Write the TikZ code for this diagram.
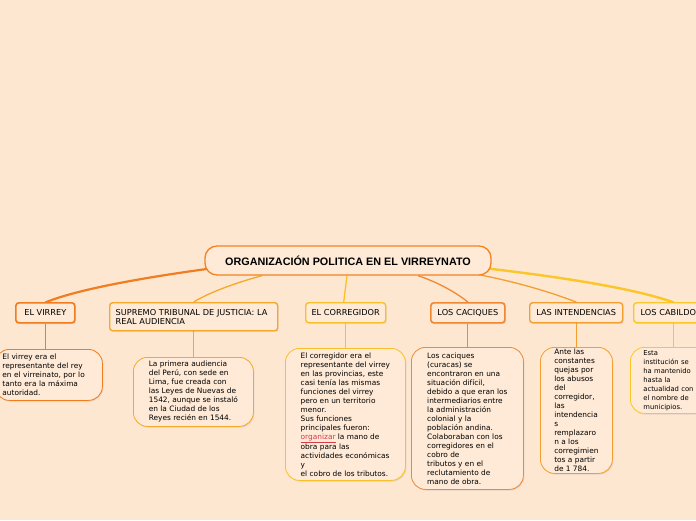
\documentclass[tikz,border=0pt]{standalone}
\usepackage{fontspec}
\setmainfont{DejaVu Sans}
\newfontfamily\titlefont{Liberation Sans}
\usetikzlibrary{calc,backgrounds,shadows}

\definecolor{paper}{RGB}{253,231,209}
\definecolor{boxfill}{RGB}{254,234,214}
\definecolor{cVirrey}{RGB}{242,124,32}
\definecolor{cAudiencia}{RGB}{246,168,42}
\definecolor{cCorreg}{RGB}{250,192,44}
\definecolor{cCaciques}{RGB}{240,136,52}
\definecolor{cIntend}{RGB}{245,158,48}
\definecolor{cCabildo}{RGB}{251,198,40}
\definecolor{spell}{RGB}{214,58,72}

\begin{document}
\begin{tikzpicture}[x=1pt, y=-1pt,
    topic/.style={draw=cVirrey!90!cCorreg, line width=1.3pt, fill=boxfill, rounded corners=12pt,
        minimum width=286pt, minimum height=29pt, inner sep=0pt,
        font=\titlefont\bfseries\fontsize{10.8}{12}\selectfont},
    branchbox/.style={draw=#1, line width=1.4pt, fill=boxfill, rounded corners=3pt,
        anchor=north west, minimum height=20pt, inner sep=0pt,
        font=\fontsize{8.2}{9}\selectfont,
        drop shadow={shadow xshift=1pt, shadow yshift=-1.2pt, opacity=0.18}},
    notebox/.style={draw=#1, line width=0.8pt, fill=boxfill, rounded corners=14pt,
        anchor=north west, align=left, inner sep=0pt,
        font=\fontsize{7.4}{9}\selectfont,
        drop shadow={shadow xshift=1pt, shadow yshift=-1.2pt, opacity=0.18}},
    link/.style={draw=#1, line width=1.3pt}]
    \useasboundingbox (0,0) rectangle (696,520);

    % Title
    \node[topic] (title) at (348,260.5) {ORGANIZACIÓN POLITICA EN EL VIRREYNATO};

    % Main branches
    \node[branchbox=cVirrey, minimum width=59pt, line width=1.7pt] (virrey) at (15,302) {EL VIRREY};
    \node[branchbox=cAudiencia, minimum height=28pt, text width=156pt, align=left, inner xsep=6pt]
        (audiencia) at (109,302) {SUPREMO TRIBUNAL DE JUSTICIA: LA\\REAL AUDIENCIA};
    \node[branchbox=cCorreg, minimum width=80pt] (correg) at (305,302) {EL CORREGIDOR};
    \node[branchbox=cCaciques, minimum width=74pt, line width=1.7pt] (caciques) at (430,302) {LOS CACIQUES};
    \node[branchbox=cIntend, minimum width=93pt] (intend) at (529,302) {LAS INTENDENCIAS};
    \node[branchbox=cCabildo, minimum width=74pt, align=left, text width=66pt, inner xsep=7pt]
        (cabildo) at (633,302) {LOS CABILDOS};

    % Notes
    \node[notebox=cVirrey, inner xsep=7pt, text width=93pt, minimum height=51pt] (virreytxt) at (-5,349)
        {El virrey era el\\representante del rey\\en el virreinato, por lo\\tanto era la máxima\\autoridad.};
    \node[notebox=cAudiencia, minimum width=120pt, minimum height=69pt] (audienciatxt) at (133,357)
        {La primera audiencia\\del Perú, con sede en\\Lima, fue creada con\\las Leyes de Nuevas de\\1542, aunque se instaló\\en la Ciudad de los\\Reyes recién en 1544.};
    \node[notebox=cCorreg, minimum width=120pt, minimum height=132pt] (corregtxt) at (285,348)
        {El corregidor era el\\representante del virrey\\en las provincias, este\\casi tenía las mismas\\funciones del virrey\\pero en un territorio\\menor.\\Sus funciones\\principales fueron:\\\textcolor{spell}{\underline{organizar}} la mano de\\obra para las\\actividades económicas\\y\\el cobro de los tributos.};
    \node[notebox=cCaciques, minimum width=112pt, minimum height=142pt] (caciquestxt) at (411,347)
        {Los caciques\\(curacas) se\\encontraron en una\\situación difícil,\\debido a que eran los\\intermediarios entre\\la administración\\colonial y la\\población andina.\\Colaboraban con los\\corregidores en el\\cobro de\\tributos y en el\\reclutamiento de\\mano de obra.};
    \node[notebox=cIntend, minimum width=72pt, minimum height=126pt] (intendtxt) at (540,347)
        {Ante las\\constantes\\quejas por\\los abusos\\del\\corregidor,\\las\\intendencia\\s\\remplazaro\\n a los\\corregimien\\tos a partir\\de 1 784.};
    \node[notebox=cCabildo, inner xsep=13pt, text width=66pt, minimum height=66pt,
        font=\fontsize{6.8}{9}\selectfont] (cabildotxt) at (630,347)
        {Esta\\institución se\\ha mantenido\\hasta la\\actualidad con\\el nombre de\\municipios.};

    \begin{scope}[on background layer]
        \fill[paper] (0,0) rectangle (696,520);

        % Links from the title
        \draw[link=cVirrey, line width=2.2pt] ($(title.west)+(6,8)$)
            .. controls (140,278) and (75,290) .. ($(virrey.north)+(0,0.5)$);
        \draw[link=cAudiencia] ($(title.south)+(-86,0)$)
            .. controls (235,283) and (208,293) .. (audiencia.north);
        \draw[link=cCorreg] ($(title.south)+(-1,0)$) -- ($(correg.north)+(-2,0)$);
        \draw[link=cCaciques] ($(title.south)+(70,0)$)
            .. controls (440,283) and (458,294) .. (caciques.north);
        \draw[link=cIntend] ($(title.south)+(120,-3)$)
            .. controls (520,282) and (555,294) .. (intend.north);
        \draw[link=cCabildo, line width=2.4pt] ($(title.east)+(-4,8)$)
            .. controls (570,278) and (640,290) .. ($(cabildo.north)+(0,0.5)$);

        % Links to the notes
        \foreach \a/\b/\c in {virrey/virreytxt/cVirrey, audiencia/audienciatxt/cAudiencia,
            correg/corregtxt/cCorreg, caciques/caciquestxt/cCaciques,
            intend/intendtxt/cIntend, cabildo/cabildotxt/cCabildo}
            \draw[\c, line width=0.8pt] (\a.south) -- (\a.south |- \b.north);
    \end{scope}
\end{tikzpicture}
\end{document}
